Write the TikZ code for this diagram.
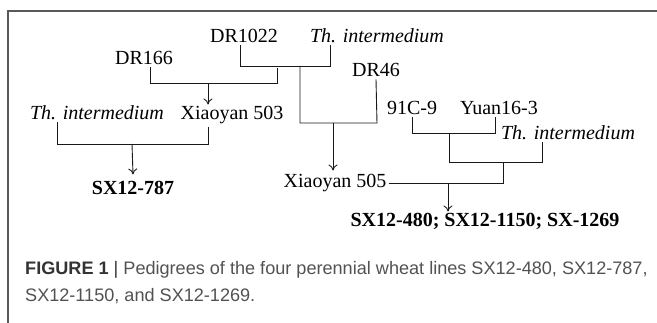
\documentclass[tikz,border=0pt]{standalone}
\usepackage{fontspec}
\setmainfont{Liberation Serif}
\newfontfamily\capfont{Liberation Sans}
\usetikzlibrary{arrows.meta}
\tikzset{
  lbl/.style={anchor=base, inner sep=2pt, font=\fontsize{20}{24}\selectfont},
  ilbl/.style={lbl, font=\fontsize{20}{24}\selectfont\itshape},
  blbl/.style={lbl, font=\fontsize{20}{24}\selectfont\bfseries},
  ln/.style={line width=0.9pt, black!90},
  arr/.style={ln, -{To[length=6pt,width=9pt]}},
  captext/.style={anchor=base west, inner sep=0pt, text=black!68, font=\fontsize{18.1}{21}\selectfont\capfont},
}
\begin{document}
\begin{tikzpicture}[x=1pt, y=-1pt]
\useasboundingbox (0,0) rectangle (657,323);
\draw[black!65, line width=1.2pt] (8,323) -- (8,11) -- (657,11);
% labels
\node[lbl] (dr1022) at (244,43) {DR1022};
\node[ilbl] (thtop) at (377,43) {Th. intermedium};
\node[lbl] (dr166) at (144,65) {DR166};
\node[lbl] (dr46) at (376,77) {DR46};
\node[ilbl] (thleft) at (97,120) {Th. intermedium};
\node[lbl] (x503) at (232,120) {Xiaoyan 503};
\node[lbl] (c91) at (412,115) {91C-9};
\node[lbl] (yuan) at (499,115) {Yuan16-3};
\node[ilbl] (thright) at (568,140) {Th. intermedium};
\node[blbl] (sx787) at (133,195) {SX12-787};
\node[lbl] (x505) at (335,188) {Xiaoyan 505};
\node[blbl] (sxall) at (485,227) {SX12-480; SX12-1150; SX-1269};
% connectors
\draw[ln] ([xshift=-4pt]dr1022.south) |- (330,66) coordinate (c1) -- (c1 |- thtop.south);
\draw[ln] ([xshift=6pt]dr166.south) |- (277,83) coordinate (c2) -- (277,68);
\draw[arr] (208,83) -- ([xshift=-24pt]x503.north);
\draw[ln] ([xshift=-40pt]thleft.south) |- (208,144) coordinate (c3) -- ([xshift=-24pt]x503.south);
\draw[arr] (132,144) -- ([yshift=5pt]sx787.north);
\draw[ln] (300,66) |- (377,123) coordinate (c4) -- (dr46.south);
\draw[arr] (333,123) -- ([xshift=-2pt,yshift=2pt]x505.north);
\draw[ln] (c91.south) |- (495,133) coordinate (c5) -- ([xshift=-4pt]yuan.south);
\draw[ln] (449,133) |- (542,162) coordinate (c6) -- ([xshift=-26pt]thright.south);
\draw[ln] (x505.east) -| (503,162);
\draw[arr] (x505.east -| 448,0) -- ([xshift=-37pt]sxall.north);
% caption
\node[captext] (cap1) at (25,275) {{\bfseries\color{black!80}FIGURE 1} {\color{black!80}|} Pedigrees of the four perennial wheat lines SX12-480, SX12-787,};
\node[captext] (cap2) at (25,302) {SX12-1150, and SX12-1269.};
\end{tikzpicture}
\end{document}
